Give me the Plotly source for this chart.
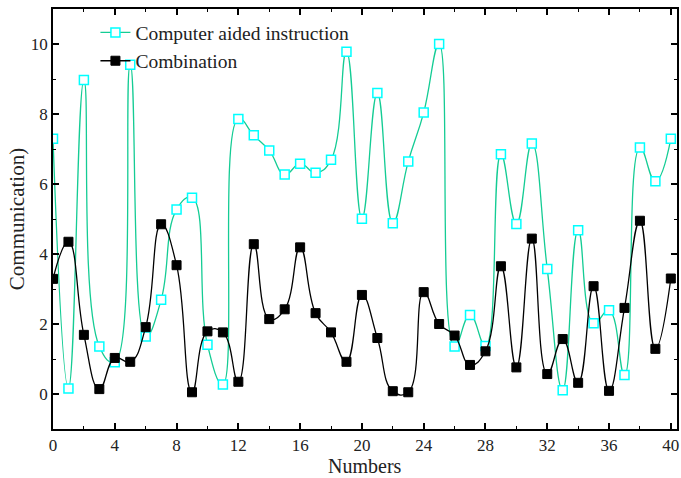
import plotly.graph_objects as go

numbers = list(range(41))
computer_aided = [7.29, 0.16, 8.97, 1.36, 0.91, 9.41, 1.64, 2.69, 5.27, 5.61,
                  1.41, 0.27, 7.86, 7.39, 6.96, 6.27, 6.58, 6.32, 6.69, 9.78,
                  5.01, 8.60, 4.88, 6.64, 8.04, 10.0, 1.36, 2.26, 1.37, 6.85,
                  4.86, 7.16, 3.57, 0.11, 4.68, 2.02, 2.39, 0.54, 7.04, 6.08, 7.29]
combination = [3.29, 4.35, 1.69, 0.14, 1.03, 0.92, 1.91, 4.85, 3.68, 0.05,
               1.79, 1.76, 0.35, 4.28, 2.14, 2.42, 4.19, 2.31, 1.76, 0.92,
               2.83, 1.60, 0.08, 0.05, 2.91, 2.00, 1.67, 0.83, 1.22, 3.65,
               0.76, 4.44, 0.57, 1.57, 0.32, 3.08, 0.09, 2.46, 4.95, 1.29, 3.30]

FONT = "Liberation Serif"

fig = go.Figure()
fig.add_trace(go.Scatter(
    x=numbers, y=computer_aided, name="Computer aided instruction",
    mode="lines+markers",
    line=dict(color="#14cc94", width=1.3, shape="spline", smoothing=1.3),
    marker=dict(symbol="square", size=9, color="white",
                line=dict(color="#00ffff", width=1.5)),
))
fig.add_trace(go.Scatter(
    x=numbers, y=combination, name="Combination",
    mode="lines+markers",
    line=dict(color="black", width=1.3, shape="spline", smoothing=1.3),
    marker=dict(symbol="square", size=9, color="black",
                line=dict(color="black", width=1)),
))

axis_common = dict(
    showline=True, linecolor="black", linewidth=1.5, mirror="ticks",
    ticks="inside", ticklen=6, tickwidth=1.5, tickcolor="black",
    showgrid=False, zeroline=False,
    tickfont=dict(family=FONT, size=17, color="#222"),
)

fig.update_xaxes(range=[0, 40.4], tick0=0, dtick=4,
                 minor=dict(ticks="inside", dtick=2, ticklen=3, tickwidth=1.2, tickcolor="black"),
                 **axis_common)
fig.update_yaxes(range=[-1, 11], tick0=0, dtick=2,
                 minor=dict(ticks="inside", dtick=1, ticklen=3, tickwidth=1.2, tickcolor="black"),
                 title=dict(text="Communication)", font=dict(family=FONT, size=21, color="#222"), standoff=0),
                 **axis_common)

fig.add_annotation(text="Numbers", xref="paper", yref="paper", x=0.5, y=-0.089,
                   xanchor="center", yanchor="middle", showarrow=False, borderpad=0,
                   font=dict(family=FONT, size=20, color="#222"))

fig.update_layout(
    width=681, height=478,
    margin=dict(l=53, r=2, t=9, b=49),
    plot_bgcolor="white", paper_bgcolor="white",
    font=dict(family=FONT, color="#222"),
    showlegend=True,
    legend=dict(x=0.068, y=0.99, xanchor="left", yanchor="top",
                bgcolor="rgba(0,0,0,0)", font=dict(family=FONT, size=19.5, color="#222"),
                tracegroupgap=0, itemwidth=30),
)

fig.write_html("out.html")
